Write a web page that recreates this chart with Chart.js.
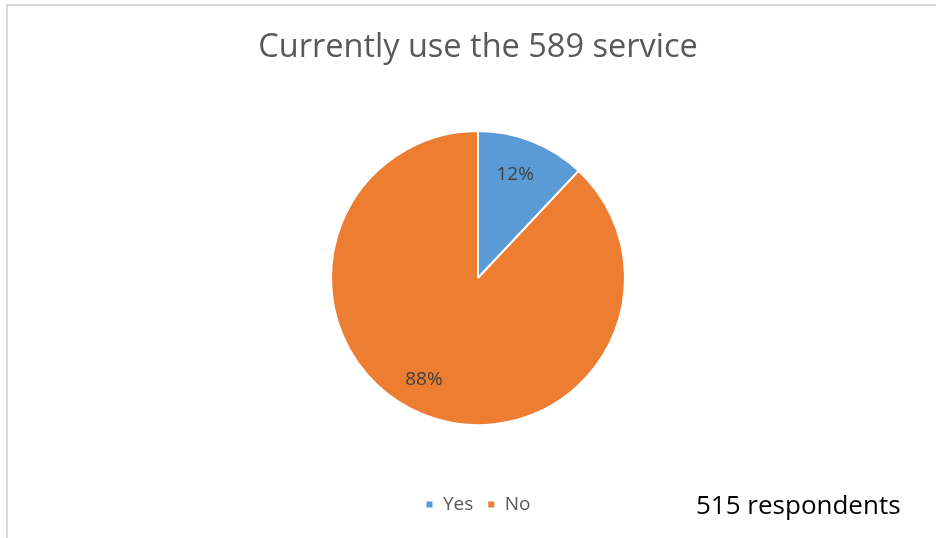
<!DOCTYPE html>
<html>
<head>
<meta charset="utf-8">
<script src="https://cdn.jsdelivr.net/npm/chart.js@4.4.1/dist/chart.umd.min.js"></script>
<style>
  html, body { margin: 0; padding: 0; background: #fff; }
  #wrap { position: relative; width: 936px; height: 538px; }
  #frame { position: absolute; left: 6px; top: 4px; right: 0; bottom: 0;
           border-top: 2px solid #d9d9d9; border-left: 2px solid #d9d9d9; }
  canvas { position: absolute; left: 0; top: 0; }
</style>
</head>
<body>
<div id="wrap">
  <div id="frame"></div>
  <canvas id="chart" width="936" height="538"></canvas>
</div>
<script>
// Survey answers (percent of respondents)
const answers = ['Yes', 'No'];
const shares = [12, 88];
const sliceColors = ['#5B9BD5', '#ED7D31'];
const respondents = 515;

// where each percentage sits: fraction of the radius, then a sideways nudge
const labelRadius = [0.76, 0.74];
const labelNudge = [-4, -14];

// percentage labels inside each slice, plus the respondent count note
const sliceLabels = {
  id: 'sliceLabels',
  afterDatasetsDraw(chart) {
    const { ctx } = chart;
    const meta = chart.getDatasetMeta(0);
    const total = shares.reduce((a, b) => a + b, 0);
    ctx.save();
    ctx.font = '19px "Open Sans", sans-serif';
    ctx.fillStyle = '#404040';
    ctx.textAlign = 'center';
    ctx.textBaseline = 'middle';
    meta.data.forEach((arc, i) => {
      const p = arc.getProps(['x', 'y', 'startAngle', 'endAngle', 'outerRadius'], true);
      const mid = (p.startAngle + p.endAngle) / 2;
      const r = p.outerRadius * labelRadius[i];
      const pct = Math.round(shares[i] / total * 100) + '%';
      ctx.fillText(pct, p.x + Math.cos(mid) * r + labelNudge[i], p.y + Math.sin(mid) * r);
    });
    ctx.font = '26px "Open Sans", sans-serif';
    ctx.fillStyle = '#000';
    ctx.textAlign = 'left';
    ctx.fillText(respondents + ' respondents', 696, 507);
    ctx.restore();
  }
};

const ctx = document.getElementById('chart').getContext('2d');
const chart = new Chart(ctx, {
  type: 'pie',
  data: {
    labels: answers,
    datasets: [{
      data: shares,
      backgroundColor: sliceColors,
      borderColor: '#fff',
      borderWidth: 2,
      radius: 147
    }]
  },
  options: {
    responsive: false,
    animation: false,
    layout: { padding: { left: 20, right: 0, top: 0, bottom: 14 } },
    plugins: {
      title: {
        display: true,
        text: 'Currently use the 589 service',
        color: '#595959',
        font: { family: '"Open Sans", sans-serif', size: 32.5, weight: '400' },
        padding: { top: 28, bottom: 8 }
      },
      legend: {
        position: 'bottom',
        labels: {
          color: '#595959',
          font: { family: '"Open Sans", sans-serif', size: 19 },
          boxWidth: 8,
          boxHeight: 8,
          padding: 14
        }
      },
      tooltip: { enabled: false }
    }
  },
  plugins: [sliceLabels]
});
</script>
</body>
</html>
